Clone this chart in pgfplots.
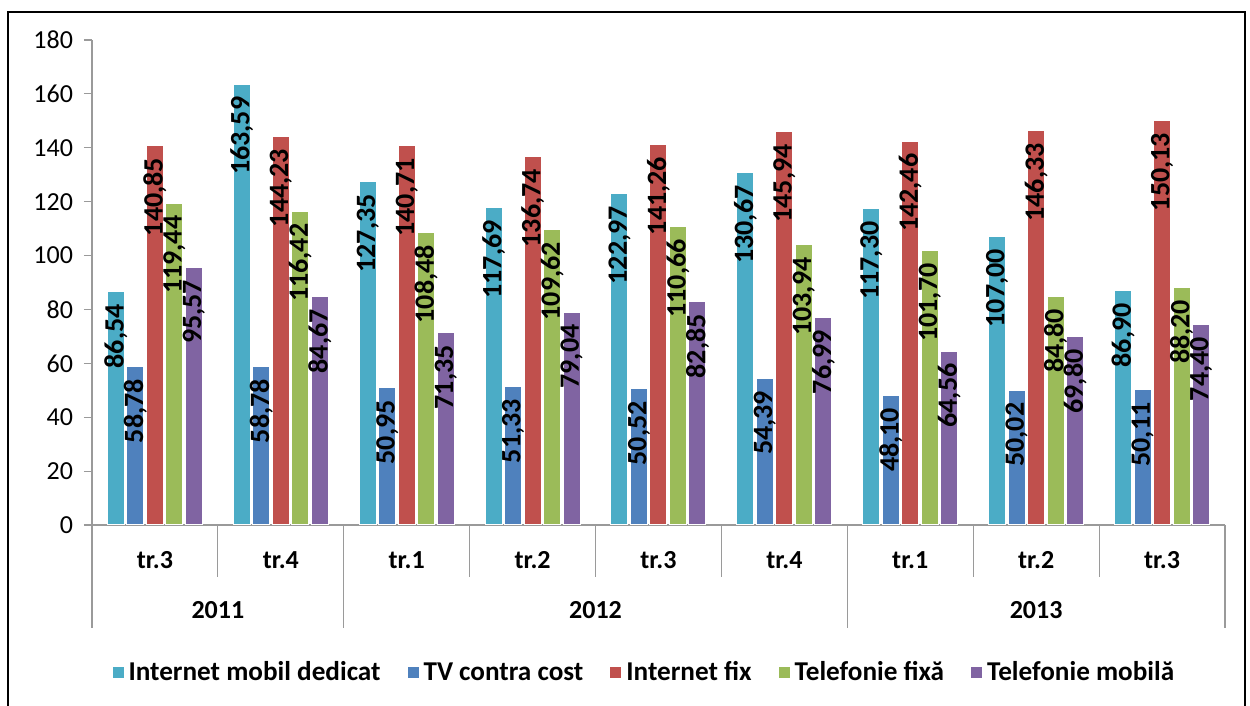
\documentclass[border=0pt]{standalone}
\usepackage{fontspec}
\setmainfont{Carlito}
\usepackage{pgfplots}
\pgfplotsset{compat=1.18}
\definecolor{cMob}{HTML}{4BACC6}
\definecolor{cTV}{HTML}{4F81BD}
\definecolor{cFix}{HTML}{C0504D}
\definecolor{cTelF}{HTML}{9BBB59}
\definecolor{cTelM}{HTML}{8064A2}
\definecolor{axgray}{HTML}{9A9A9A}

\begin{document}
\begin{tikzpicture}[x=1pt,y=1pt]
\useasboundingbox (0,0) rectangle (625,353);
\draw[line width=1.3pt] (4,0) -- (4,347) -- (622.5,347) -- (622.5,0);
\begin{axis}[
  at={(46pt,90.5pt)}, anchor=south west,
  scale only axis, width=566.5pt, height=242.5pt,
  xmin=-0.5, xmax=8.5, ymin=0, ymax=180,
  ybar=1.25pt, bar width=8.5pt,
  axis lines*=left,
  axis line style={axgray, line width=0.6pt},
  ytick={0,20,...,180},
  ytick style={axgray, line width=0.6pt},
  tick align=outside, major tick length=4pt,
  xtick=\empty,
  /pgf/number format/assume math mode=true,
  yticklabel style={font=\fontsize{13}{15}\selectfont, xshift=-2pt},
  clip=false,
  nodes near coords={\hbox{\pgfmathprintnumber[fixed,fixed zerofill,precision=2,use comma,assume math mode=true]{\pgfplotspointmeta}\rule{6pt}{0pt}}},
  every node near coord/.append style={rotate=90, anchor=east, inner sep=0pt,
     text=black, font=\bfseries\fontsize{14}{14}\selectfont},
  legend columns=5,
  legend style={at={(0.488,-0.305)}, anchor=center, draw=none,
     font=\bfseries\fontsize{13.6}{15}\selectfont,
     /tikz/every even column/.append style={column sep=11pt}},
  legend image code/.code={\fill[#1] (0pt,-3pt) rectangle (6pt,3pt);},
  every axis plot/.append style={draw=white, line width=0.5pt},
]
\addplot[fill=cMob] coordinates {(0,86.54) (1,163.59) (2,127.35) (3,117.69) (4,122.97) (5,130.67) (6,117.30) (7,107.00) (8,86.90)};
\addplot[fill=cTV] coordinates {(0,58.78) (1,58.78) (2,50.95) (3,51.33) (4,50.52) (5,54.39) (6,48.10) (7,50.02) (8,50.11)};
\addplot[fill=cFix] coordinates {(0,140.85) (1,144.23) (2,140.71) (3,136.74) (4,141.26) (5,145.94) (6,142.46) (7,146.33) (8,150.13)};
\addplot[fill=cTelF] coordinates {(0,119.44) (1,116.42) (2,108.48) (3,109.62) (4,110.66) (5,103.94) (6,101.70) (7,84.80) (8,88.20)};
\addplot[fill=cTelM] coordinates {(0,95.57) (1,84.67) (2,71.35) (3,79.04) (4,82.85) (5,76.99) (6,64.56) (7,69.80) (8,74.40)};
\legend{Internet mobil dedicat, TV contra cost, Internet fix, Telefonie fixă, Telefonie mobilă}

% category separators
\tikzset{sep/.style={axgray, line width=0.6pt}}
\draw[sep] (axis cs:0.5,0) -- ([yshift=-26pt]axis cs:0.5,0);
\draw[sep] (axis cs:2.5,0) -- ([yshift=-26pt]axis cs:2.5,0);
\draw[sep] (axis cs:3.5,0) -- ([yshift=-26pt]axis cs:3.5,0);
\draw[sep] (axis cs:4.5,0) -- ([yshift=-26pt]axis cs:4.5,0);
\draw[sep] (axis cs:6.5,0) -- ([yshift=-26pt]axis cs:6.5,0);
\draw[sep] (axis cs:7.5,0) -- ([yshift=-26pt]axis cs:7.5,0);
\draw[sep] (axis cs:-0.5,0) -- ([yshift=-51.5pt]axis cs:-0.5,0);
\draw[sep] (axis cs:1.5,0) -- ([yshift=-51.5pt]axis cs:1.5,0);
\draw[sep] (axis cs:5.5,0) -- ([yshift=-51.5pt]axis cs:5.5,0);
\draw[sep] (axis cs:8.5,0) -- ([yshift=-51.5pt]axis cs:8.5,0);

% quarter labels
\tikzset{qlab/.style={font=\bfseries\fontsize{13}{15}\selectfont, anchor=center, yshift=-17.5pt}}
\node[qlab] at (axis cs:0,0) {tr.3};
\node[qlab] at (axis cs:1,0) {tr.4};
\node[qlab] at (axis cs:2,0) {tr.1};
\node[qlab] at (axis cs:3,0) {tr.2};
\node[qlab] at (axis cs:4,0) {tr.3};
\node[qlab] at (axis cs:5,0) {tr.4};
\node[qlab] at (axis cs:6,0) {tr.1};
\node[qlab] at (axis cs:7,0) {tr.2};
\node[qlab] at (axis cs:8,0) {tr.3};
% year labels
\node[qlab, yshift=-25pt] at (axis cs:0.5,0) {2011};
\node[qlab, yshift=-25pt] at (axis cs:3.5,0) {2012};
\node[qlab, yshift=-25pt] at (axis cs:7,0) {2013};
\end{axis}
\end{tikzpicture}
\end{document}
